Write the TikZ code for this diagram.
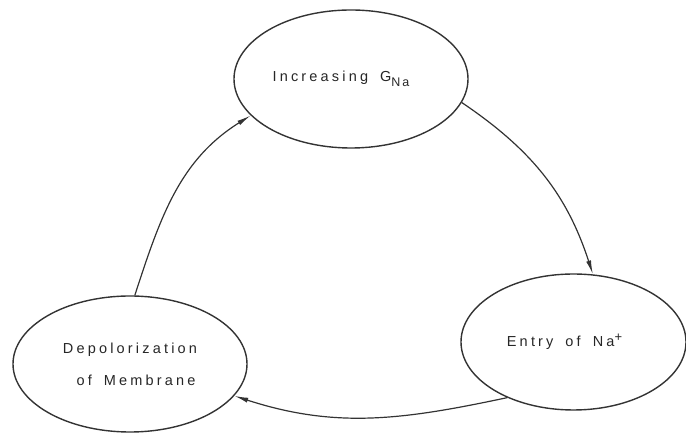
\documentclass[tikz,border=0pt]{standalone}
\usepackage{fontspec}
\newfontfamily\lab[LetterSpace=22]{Liberation Sans}
\usetikzlibrary{shapes.geometric,arrows.meta}
\newcommand{\gap}{\hspace{12pt}}
\begin{document}
\begin{tikzpicture}[x=1pt,y=1pt,
  state/.style={ellipse,draw=black!80,line width=1.4pt,inner sep=0pt,
    font=\lab\fontsize{14.5}{16}\selectfont,text=black!85,align=center},
  conn/.style={draw=black!80,line width=1.2pt,-{Latex[length=14pt,width=5pt]}}]
\useasboundingbox (0,0) rectangle (686,433);
\node[state,minimum width=234pt,minimum height=138pt] (T) at (351,354)
  {Increasing\gap G\raisebox{-5pt}{\fontsize{12.5}{13}\selectfont N\hspace{2pt}a}\hspace{20pt}};
\node[state,minimum width=225pt,minimum height=136pt] (R) at (573.5,91)
  {Entry\gap of\gap Na\raisebox{5pt}{\fontsize{13}{13}\selectfont +}\hspace{18pt}};
\node[state,minimum width=234pt,minimum height=136pt] (L) at (130,69)
  {Depolorization\\[16pt]\hspace{12pt}of\gap Membrane};
\draw[conn] (L.86) to[out=72,in=212] (T.200);
\draw[conn] (T.-12) to[out=-34,in=108] (R.74);
\draw[conn] (R.220) to[out=192,in=-18] (L.-17);
\end{tikzpicture}
\end{document}
